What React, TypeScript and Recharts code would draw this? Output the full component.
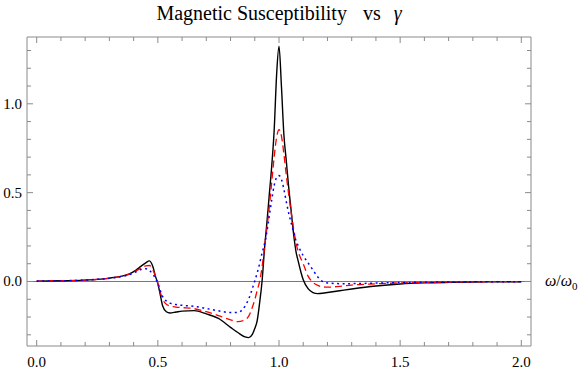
import React from 'react';
import { LineChart, Line, XAxis, YAxis, ReferenceLine } from 'recharts';

// omega / omega0 sample points
const omega = [
  0, 0.1, 0.2, 0.25, 0.3, 0.35, 0.38, 0.41, 0.43, 0.45, 0.465, 0.48, 0.49, 0.5, 0.51, 0.52,
  0.535, 0.55, 0.575, 0.6, 0.65, 0.7, 0.75, 0.8, 0.83, 0.86, 0.875, 0.89, 0.9, 0.91, 0.92,
  0.93, 0.94, 0.95, 0.96, 0.97, 0.98, 0.99, 1.0, 1.01, 1.02, 1.03, 1.04, 1.05, 1.06, 1.07,
  1.08, 1.09, 1.1, 1.12, 1.14, 1.16, 1.18, 1.2, 1.25, 1.3, 1.4, 1.5, 1.6, 1.7, 1.8, 1.9, 2.0,
];

// smallest damping (black, solid)
const chiSmall = [
  0.002, 0.004, 0.008, 0.012, 0.019, 0.03, 0.041, 0.064, 0.085, 0.105, 0.116, 0.082, 0.03, -0.012, -0.075, -0.138,
  -0.17, -0.177, -0.172, -0.167, -0.164, -0.182, -0.208, -0.258, -0.287, -0.312, -0.316, -0.298, -0.265, -0.22, -0.12,
  0.0, 0.18, 0.33, 0.49, 0.65, 0.85, 1.16, 1.324, 1.1, 0.83, 0.68, 0.53, 0.4, 0.27, 0.17,
  0.11, 0.055, 0.01, -0.04, -0.062, -0.068, -0.066, -0.062, -0.052, -0.042, -0.025, -0.014, -0.008, -0.005, -0.003, -0.002, -0.001,
];

// medium damping (red, dashed)
const chiMedium = [
  0.002, 0.004, 0.008, 0.012, 0.018, 0.029, 0.04, 0.06, 0.075, 0.088, 0.09, 0.065, 0.03, -0.01, -0.06, -0.1,
  -0.128, -0.138, -0.144, -0.147, -0.153, -0.17, -0.192, -0.216, -0.226, -0.215, -0.195, -0.145, -0.103, -0.05, 0.0,
  0.08, 0.19, 0.3, 0.42, 0.56, 0.7, 0.81, 0.854, 0.82, 0.72, 0.6, 0.49, 0.39, 0.3, 0.22,
  0.165, 0.13, 0.1, 0.03, -0.005, -0.022, -0.03, -0.032, -0.027, -0.02, -0.013, -0.008, -0.005, -0.003, -0.002, -0.001, -0.001,
];

// largest damping (blue, dotted)
const chiLarge = [
  0.002, 0.004, 0.008, 0.012, 0.018, 0.028, 0.038, 0.055, 0.068, 0.072, 0.062, 0.04, 0.018, -0.01, -0.05, -0.085,
  -0.11, -0.122, -0.13, -0.134, -0.14, -0.152, -0.165, -0.175, -0.174, -0.138, -0.098, -0.04, 0.003, 0.048, 0.1,
  0.16, 0.21, 0.28, 0.37, 0.46, 0.54, 0.585, 0.596, 0.575, 0.52, 0.45, 0.385, 0.33, 0.28, 0.23,
  0.2, 0.17, 0.145, 0.105, 0.065, 0.025, 0.0, -0.008, -0.012, -0.012, -0.009, -0.006, -0.004, -0.003, -0.002, -0.001, -0.001,
];

const xTicks = [0, 0.1, 0.2, 0.3, 0.4, 0.5, 0.6, 0.7, 0.8, 0.9, 1.0, 1.1, 1.2, 1.3, 1.4, 1.5, 1.6, 1.7, 1.8, 1.9, 2.0];
const xLabels = [0, 0.5, 1.0, 1.5, 2.0];
const yTicks = [-0.3, -0.2, -0.1, 0, 0.1, 0.2, 0.3, 0.4, 0.5, 0.6, 0.7, 0.8, 0.9, 1.0, 1.1, 1.2, 1.3];
const yLabels = [0, 0.5, 1.0];

const data = omega.map((w, i) => ({ w, small: chiSmall[i], medium: chiMedium[i], large: chiLarge[i] }));

const FRAME = '#8a8a8a';
const SERIF = 'Liberation Serif';

const isLabel = (list: number[], v: number) => list.some((l) => Math.abs(l - v) < 1e-6);

function BottomTick({ x, y, payload }: any) {
  const major = isLabel(xLabels, payload.value);
  return (
    <g>
      <line x1={x} x2={x} y1={y} y2={y - (major ? 6 : 4)} stroke={FRAME} />
      {major && (
        <text x={x} y={y + 21} textAnchor="middle" fontFamily={SERIF} fontSize={15} fill="#000">
          {payload.value.toFixed(1)}
        </text>
      )}
    </g>
  );
}

function TopTick({ x, y, payload }: any) {
  const major = isLabel(xLabels, payload.value);
  return <line x1={x} x2={x} y1={y} y2={y + (major ? 6 : 4)} stroke={FRAME} />;
}

function LeftTick({ x, y, payload }: any) {
  const major = isLabel(yLabels, payload.value);
  return (
    <g>
      <line x1={x} x2={x + (major ? 6 : 4)} y1={y} y2={y} stroke={FRAME} />
      {major && (
        <text x={x - 5} y={y + 5} textAnchor="end" fontFamily={SERIF} fontSize={15} fill="#000">
          {payload.value.toFixed(1)}
        </text>
      )}
    </g>
  );
}

function RightTick({ x, y, payload }: any) {
  const major = isLabel(yLabels, payload.value);
  return <line x1={x} x2={x - (major ? 6 : 4)} y1={y} y2={y} stroke={FRAME} />;
}

function RatioLabel({ viewBox }: any) {
  const x = viewBox.x + viewBox.width + 14;
  const y = viewBox.y + 5;
  return (
    <text x={x} y={y} fontFamily={SERIF} fontSize={16} fill="#000">
      <tspan fontStyle="italic">ω</tspan>
      <tspan>/</tspan>
      <tspan fontStyle="italic">ω</tspan>
      <tspan fontSize={11} dy={4}>0</tspan>
    </text>
  );
}

export default function App() {
  return (
    <div style={{ position: 'absolute', left: 0, top: 0, width: 581, height: 372, background: '#fff' }}>
      <div
        style={{
          position: 'absolute',
          top: 2,
          left: 0,
          width: 558,
          display: 'flex',
          justifyContent: 'center',
          fontFamily: SERIF,
          fontSize: 20,
          color: '#000',
        }}
      >
        <span>Magnetic Susceptibility</span>
        <span style={{ marginLeft: 16 }}>vs</span>
        <span style={{ marginLeft: 13, fontStyle: 'italic' }}>γ</span>
      </div>
      <LineChart width={581} height={372} data={data} margin={{ top: 36, right: 49, bottom: 0, left: 0 }}>
        <XAxis
          dataKey="w"
          type="number"
          domain={[-0.04, 2.04]}
          ticks={xTicks}
          interval={0}
          tickSize={0}
          tickMargin={0}
          tickLine={false}
          tick={<BottomTick />}
          axisLine={{ stroke: FRAME }}
          height={26}
          allowDataOverflow
        />
        <XAxis
          xAxisId="top"
          orientation="top"
          dataKey="w"
          type="number"
          domain={[-0.04, 2.04]}
          ticks={xTicks}
          interval={0}
          tickSize={0}
          tickMargin={0}
          tickLine={false}
          tick={<TopTick />}
          axisLine={{ stroke: FRAME }}
          height={1}
          allowDataOverflow
        />
        <YAxis
          type="number"
          domain={[-0.363, 1.376]}
          ticks={yTicks}
          interval={0}
          tickSize={0}
          tickMargin={0}
          tickLine={false}
          tick={<LeftTick />}
          axisLine={{ stroke: FRAME }}
          width={27}
          allowDataOverflow
        />
        <YAxis
          yAxisId="right"
          orientation="right"
          type="number"
          domain={[-0.363, 1.376]}
          ticks={yTicks}
          interval={0}
          tickSize={0}
          tickMargin={0}
          tickLine={false}
          tick={<RightTick />}
          axisLine={{ stroke: FRAME }}
          width={1}
          allowDataOverflow
        />
        <ReferenceLine y={0} stroke="#777" strokeWidth={1} label={<RatioLabel />} />
        {/* invisible series so the top/right frame axes get registered */}
        <Line
          xAxisId="top"
          yAxisId="right"
          type="monotone"
          dataKey="small"
          stroke="none"
          dot={false}
          isAnimationActive={false}
        />
        <Line type="monotone" dataKey="small" stroke="#000" strokeWidth={1.4} dot={false} isAnimationActive={false} />
        <Line
          type="monotone"
          dataKey="medium"
          stroke="#ff0000"
          strokeWidth={1.3}
          strokeDasharray="7 4"
          dot={false}
          isAnimationActive={false}
        />
        <Line
          type="monotone"
          dataKey="large"
          stroke="#0000ff"
          strokeWidth={1.5}
          strokeDasharray="2 3.5"
          dot={false}
          isAnimationActive={false}
        />
      </LineChart>
    </div>
  );
}
